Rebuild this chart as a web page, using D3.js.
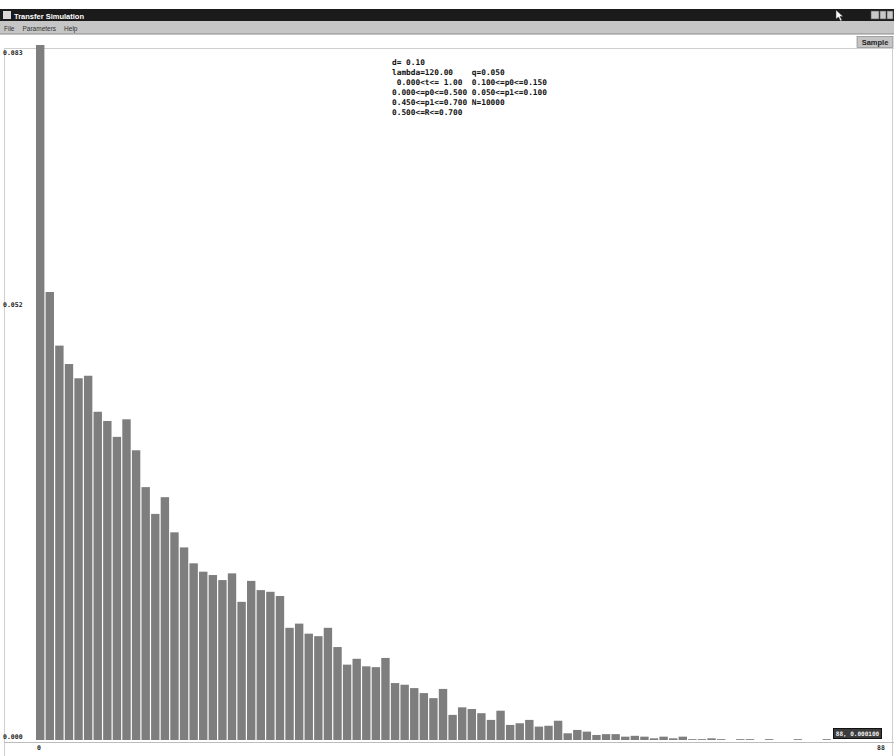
<!DOCTYPE html>
<html>
<head>
<meta charset="utf-8">
<script src="https://cdn.jsdelivr.net/npm/d3@7"></script>
<style>
  html, body { margin: 0; padding: 0; background: #fff; }
  svg { display: block; }
  text { font-family: "DejaVu Sans Mono", "Liberation Mono", monospace; font-weight: bold; }
</style>
</head>
<body>
<div id="chart"></div>
<script>
// Relative frequency of each bin from the simulation run
const binFrequencies = [
  0.0830, 0.0535, 0.0471, 0.0449, 0.0432, 0.0435, 0.0392, 0.0381, 0.0362, 0.0383,
  0.0346, 0.0302, 0.0270, 0.0290, 0.0248, 0.0230, 0.0211, 0.0201, 0.0197, 0.0191,
  0.0199, 0.0165, 0.0190, 0.0179, 0.0177, 0.0172, 0.0134, 0.0139, 0.0127, 0.0124,
  0.0134, 0.0111, 0.0090, 0.0097, 0.0088, 0.0087, 0.0098, 0.0068, 0.0066, 0.0062,
  0.0056, 0.0050, 0.0061, 0.0030, 0.0039, 0.0037, 0.0032, 0.0024, 0.0035, 0.0018,
  0.0020, 0.0024, 0.0016, 0.0017, 0.0023, 0.0008, 0.0012, 0.0010, 0.0006, 0.0007,
  0.0007, 0.0004, 0.0005, 0.0004, 0.0002, 0.0004, 0.0002, 0.0004, 0.0001, 0.0001,
  0.0002, 0.0001, 0.0000, 0.0001, 0.0001, 0.0000, 0.0001, 0.0000, 0.0000, 0.0001,
  0.0000, 0.0000, 0.0001, 0.0000, 0.0000, 0.0000, 0.0000, 0.0000
];
const yTickValues = [0, 0.052, 0.083];
const yTickLabels = ["0.000", "0.052", "0.083"];
const xTickValues = [0, 88];
const xTickLabels = ["0", "88"];
const parameterLines = [
  "d= 0.10",
  "lambda=120.00    q=0.050",
  " 0.000<t<= 1.00  0.100<=p0<=0.150",
  "0.000<=p0<=0.500 0.050<=p1<=0.100",
  "0.450<=p1<=0.700 N=10000",
  "0.500<=R<=0.700"
];
const menuItems = ["File", "Parameters", "Help"];
const windowTitle = "Transfer Simulation";
const readout = "88, 0.000100";

const W = 894, H = 756;
const svg = d3.select("#chart").append("svg").attr("width", W).attr("height", H);

// ---- window chrome ----
svg.append("rect").attr("x", 0).attr("y", 9).attr("width", W).attr("height", 12).attr("fill", "#1b1b1b");
svg.append("rect").attr("x", 3).attr("y", 11).attr("width", 8).attr("height", 8).attr("fill", "#d8d8d8");
svg.append("text").attr("x", 14).attr("y", 18.5).attr("fill", "#fff").attr("font-size", 7.5)
  .style("font-family", "'Liberation Sans', Arial, sans-serif").text(windowTitle);
// window buttons
[[871, 8], [880, 6], [887, 6]].forEach(([x, w]) => {
  svg.append("rect").attr("x", x).attr("y", 11).attr("width", w).attr("height", 8)
    .attr("fill", "#c8c8c8").attr("stroke", "#555").attr("stroke-width", 0.6);
});
// mouse pointer
svg.append("path").attr("d", "M836,10 L836,19 L838.5,17 L840.5,21 L842,20.3 L840,16.5 L843,16.5 Z")
  .attr("fill", "#fff").attr("stroke", "#333").attr("stroke-width", 0.5);

svg.append("rect").attr("x", 0).attr("y", 21).attr("width", W).attr("height", 13).attr("fill", "#c6c6c6");
svg.append("line").attr("x1", 0).attr("x2", W).attr("y1", 34).attr("y2", 34).attr("stroke", "#8a8a8a");
let mx = 4;
menuItems.forEach(m => {
  const t = svg.append("text").attr("x", mx).attr("y", 30.5).attr("font-size", 6.5).attr("fill", "#333")
    .style("font-family", "'Liberation Sans', Arial, sans-serif").style("font-weight", "normal").text(m);
  mx += t.node().getComputedTextLength() + 8;
});

// toolbar button
svg.append("rect").attr("x", 857).attr("y", 36.5).attr("width", 36).attr("height", 11)
  .attr("fill", "#c4c4c4").attr("stroke", "#7a7a7a").attr("stroke-width", 0.6);
svg.append("text").attr("x", 875).attr("y", 45).attr("text-anchor", "middle").attr("font-size", 7.5)
  .attr("fill", "#222").style("font-family", "'Liberation Sans', Arial, sans-serif").text("Sample");

// plot frame
svg.append("line").attr("x1", 4).attr("x2", W).attr("y1", 48.5).attr("y2", 48.5).attr("stroke", "#cfcfcf");
svg.append("line").attr("x1", 4.5).attr("x2", 4.5).attr("y1", 48).attr("y2", H).attr("stroke", "#cfcfcf");
svg.append("line").attr("x1", 892.5).attr("x2", 892.5).attr("y1", 48).attr("y2", H).attr("stroke", "#cfcfcf");

// ---- scales ----
const x = d3.scaleLinear().domain([0, binFrequencies.length]).range([36, 880]);
const y = d3.scaleLinear().domain([0, 0.083]).range([740, 45]);

// bars
svg.append("g").selectAll("rect").data(binFrequencies).join("rect")
  .attr("x", (d, i) => x(i))
  .attr("width", (d, i) => x(i + 1) - x(i) - 1.2)
  .attr("y", d => y(d))
  .attr("height", d => y(0) - y(d))
  .attr("fill", "#7e7e7e");

// baseline
svg.append("line").attr("x1", 4).attr("x2", W).attr("y1", 742.5).attr("y2", 742.5).attr("stroke", "#bdbdbd");

// y labels
svg.append("g").selectAll("text").data(yTickValues).join("text")
  .attr("x", 3)
  .attr("y", d => Math.min(Math.max(y(d), 53), 737))
  .attr("dy", "0.35em")
  .attr("font-size", 6.5).attr("fill", "#222")
  .text((d, i) => yTickLabels[i]);

// x labels
svg.append("g").selectAll("text").data(xTickValues).join("text")
  .attr("x", d => x(d) + 1)
  .attr("y", 750)
  .attr("text-anchor", (d, i) => i === 0 ? "start" : "middle")
  .attr("font-size", 6.5).attr("fill", "#222")
  .text((d, i) => xTickLabels[i]);

// parameter block
svg.append("g").selectAll("text").data(parameterLines).join("text")
  .attr("x", 392)
  .attr("y", (d, i) => 65 + i * 9.9)
  .attr("font-size", 7.8).attr("fill", "#111")
  .attr("xml:space", "preserve").style("white-space", "pre")
  .text(d => d);

// cursor readout
svg.append("rect").attr("x", 833.5).attr("y", 728.5).attr("width", 48).attr("height", 10)
  .attr("fill", "#3c3c3c").attr("stroke", "#111").attr("stroke-width", 1);
svg.append("text").attr("x", 857.5).attr("y", 736).attr("text-anchor", "middle")
  .attr("font-size", 6).attr("fill", "#eee").text(readout);
</script>
</body>
</html>
